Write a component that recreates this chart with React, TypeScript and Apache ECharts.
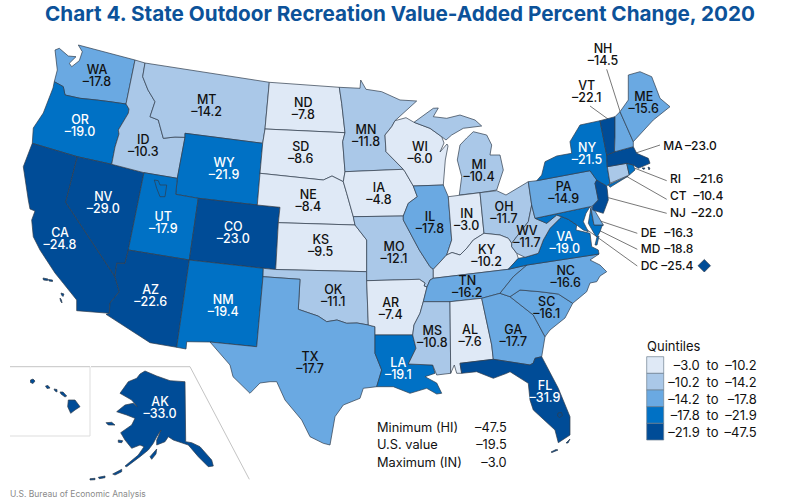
import React, { useEffect, useRef } from "react";
import * as echarts from "echarts";

const FONT = "Inter, 'Open Sans', sans-serif";
const TITLE = "Chart 4. State Outdoor Recreation Value-Added Percent Change, 2020";
const SOURCE = "U.S. Bureau of Economic Analysis";
const QUINTILE_COLORS = ["#DFE9F6", "#AAC8E8", "#6AA9E2", "#0071C5", "#004C97"];
const QUINTILE_LOW = ["-3.0", "-10.2", "-14.2", "-17.8", "-21.9"];
const QUINTILE_HIGH = ["-10.2", "-14.2", "-17.8", "-21.9", "-47.5"];
const STAT_NAMES = ["Minimum (HI)", "U.S. value", "Maximum (IN)"];
const STAT_VALUES = ["-47.5", "-19.5", "-3.0"];

const stateValues: Record<string, number> = {
  WA: -17.8, OR: -19.0, CA: -24.8, NV: -29.0, ID: -10.3, MT: -14.2, WY: -21.9, UT: -17.9, CO: -23.0, AZ: -22.6,
  NM: -19.4, ND: -7.8, SD: -8.6, NE: -8.4, KS: -9.5, OK: -11.1, TX: -17.7, MN: -11.8, IA: -4.8, MO: -12.1,
  AR: -7.4, LA: -19.1, WI: -6.0, IL: -17.8, MI: -10.4, IN: -3.0, OH: -11.7, KY: -10.2, TN: -16.2, MS: -10.8,
  AL: -7.6, GA: -17.7, FL: -31.9, SC: -16.1, NC: -16.6, VA: -19.0, WV: -11.7, PA: -14.9, NY: -21.5, ME: -15.6,
  HI: -47.5, AK: -33.0, NH: -14.5, VT: -22.1, MA: -23.0, RI: -21.6, CT: -10.4, NJ: -22.0, DE: -16.3, MD: -18.8, DC: -25.4,
};

// Region outlines, in page pixels: each region is a list of polygons, each polygon a list of rings.
const shapes: Record<string, string[][]> = {
  WA: [["78.3,45 135,60 126,104 110,101.7 96.7,100 80,98.3 65,95 63.3,86.7 54.3,81.7 57.3,70 55,50 59.3,48.3 68.3,56 76,56.7 69.3,63.3 71.7,66.7 79.3,60.7 82.3,51.7"]],
  OR: [["54.3,81.7 63.3,86.7 65,95 80,98.3 96.7,100 110,101.7 126,104 129,109 128.3,113.3 118.3,130 119,134 115,147 111.7,164.3 77.3,156.7 32.3,143.3 33.3,128 43.3,113 53,88"]],
  CA: [["32.3,143.3 77.3,156.7 65.7,202.3 115,276.7 119.3,291.7 110,303 109.3,313.3 76.7,310.7 76.7,300 63.3,283.3 55,273 40,250 33.3,236.7 31.7,220 35,211 30,209 28.3,200 23.3,166.7"],
    ["43,278 48,279 47.5,280.5 43.5,280"], ["48.5,279.5 52.5,280 52.5,281.5 49,281"], ["61,293 64,294 63,296.5 61.5,295"], ["60,298 61.5,300 62,303 60.5,301"]],
  NV: [["77.3,156.7 111.7,164.3 144,172.7 128.3,250 125,263.3 116.7,263.3 115,276.7 65.7,202.3"]],
  ID: [["135,60 145,63 142.7,76.7 148,90 155,101.7 150,116.7 158.3,120 163.3,138.3 175,137 185,137.3 177.3,178.3 144,172.7 111.7,164.3 115,147 119,134 118.3,130 128.3,113.3 129,109 126,104"]],
  MT: [["145,63 269.3,82.3 265,129 262.7,143.3 185,133.3 185,137.3 175,137 163.3,138.3 158.3,120 150,116.7 155,101.7 148,90 142.7,76.7"]],
  WY: [["185,133.3 262.7,143.3 260,173.3 257.3,205 198.3,198.3 175.7,194.3 177.3,178.3 185,137.3"]],
  UT: [["144,172.7 177.3,178.3 175.7,194.3 198.3,198.3 189.3,260 128.3,250", "154.3,180 158.3,180.7 160,185 166.7,185 165,196.7 160,196.7 156.7,188.3"]],
  CO: [["198.3,198.3 257.3,205 280,207.3 278.3,222.7 275.7,269.5 263.3,268.3 189.3,260"]],
  AZ: [["128.3,250 189.3,260 176.7,347.3 150,342.7 106,314.3 109.3,313.3 110,303 119.3,291.7 115,276.7 116.7,263.3 125,263.3"]],
  NM: [["189.3,260 263.3,268.3 263,276.7 256.7,346.7 210,342 186.7,341.7 186,349 176.7,347.3"]],
  ND: [["269.3,82.3 339.3,87.3 341.7,103.3 345,132.7 265,129"]],
  SD: [["265,129 345,132.7 342.7,141.7 345,171.7 343.3,181.7 332,176 323.3,180 260,173.3 262.7,143.3"]],
  NE: [["260,173.3 323.3,180 332,176 343.3,181.7 346.7,193.3 353.3,216.7 355,225 278.3,222.7 280,207.3 257.3,205"]],
  KS: [["278.3,222.7 355,225 366.7,240 366.7,271.7 275.7,269.5"]],
  OK: [["263.3,268.3 275.7,269.5 366.7,271.7 366.7,280.7 368.3,325 357,323 346.7,323.3 337,320 326.7,321.7 318,316 310,313.3 298.3,309.3 300,279.3 263,276.7"]],
  TX: [["263,276.7 300,279.3 298.3,309.3 310,313.3 318,316 326.7,321.7 337,320 346.7,323.3 357,323 368.3,325 375,326.7 375,353.3 381.7,370 376.7,386.7 363.3,388.3 360,398.3 343.3,405 335,416.7 330,445 323.3,443.3 310,436.7 301.7,420 285,400 276.7,381.7 270,381.7 260,383 250,393.3 233,376.7 230,365 210,342 256.7,346.7"]],
  MN: [["339.3,87.3 360,88.3 360.7,80 366,89.3 381.7,91.7 400,100 416.7,101 395,120.7 391.7,126.7 385,135 386,151.7 403.3,169.3 345,171.7 342.7,141.7 345,132.7 341.7,103.3"]],
  IA: [["345,171.7 403.3,169.3 405,171.7 413.3,186 417.3,196.7 408.3,203.3 403.3,216 353.3,216.7 346.7,193.3 343.3,181.7"]],
  MO: [["353.3,216.7 403.3,216 403.3,220 419.3,250 430,266.7 433.3,269.3 433.3,278.3 430,280 427,287 424,286 425,283 419.3,279.3 366.7,280.7 366.7,271.7 366.7,240 355,225"]],
  AR: [["366.7,280.7 419.3,279.3 425,283 424,286 427,287 423.3,301.7 420,313.3 414,325 412.7,335 375,335 375,326.7 368.3,325"]],
  LA: [["375,335 412.7,335 416,348.3 408.3,364 432.7,365 435,373.3 425,376.7 436.7,383 441.7,393.3 436.7,394 426.7,388.3 410,393.3 393.3,386.7 376.7,386.7 381.7,370 375,353.3"]],
  WI: [["395,120.7 406,117.7 414,122.3 430,128.3 441.7,136.7 444,143 440,152 447,144 448,146 445.3,160 443.3,185 413.3,186 405,171.7 403.3,169.3 386,151.7 385,135 391.7,126.7"]],
  IL: [["413.3,186 443.3,185 448.3,196.7 451.7,240 446.7,255 445,256.7 433.3,269.3 430,266.7 419.3,250 403.3,220 403.3,216 408.3,203.3 417.3,196.7"]],
  MI: [["414,122.3 433.3,108.3 438.3,108 433.3,116.7 446.7,118.3 460,115 475,120 481.7,126 463.3,128.3 451.7,135 446,140 441.7,136.7 430,128.3"],
    ["473.3,131.7 486.7,135 491.7,145 490,155 500,155 503.3,170 496.7,190 480,192.7 459.3,195 461.7,176.7 457.3,160 460,145 466.7,138"]],
  IN: [["448.3,196.7 480,192.7 484,233.3 473.3,240 467,248 460,255 452,252.5 446.7,255 451.7,240"]],
  OH: [["480,192.7 496.7,190.7 506,195 528.3,181.7 531.7,205 528.3,221.7 516.7,236.7 511.7,243.3 508.3,238.3 500,235 484,233.3"]],
  KY: [["484,233.3 500,235 508.3,238.3 511.7,243.3 511.7,246.7 516.7,253.3 518.3,258.3 508.3,269.3 433.3,278.3 433.3,269.3 445,256.7 446.7,255 452,252.5 460,255 467,248 473.3,240"]],
  TN: [["433.3,278.3 508.3,269.3 527,265 513.3,276.7 500,293.3 481.7,298.3 450,301.7 423.3,301.7 427,287 430,280"]],
  MS: [["423.3,301.7 450,301.7 450.7,373.3 436.7,375 432.7,365 408.3,364 416,348.3 412.7,335 414,325 420,313.3"]],
  AL: [["450,301.7 481.7,298.3 491.7,345 493.3,359.3 460,363.3 461.7,373.3 456.7,373.3 454.3,365 450.7,373.3"]],
  GA: [["481.7,298.3 500,293.3 510,296.7 533.3,315 545,336.7 541.7,356.7 535,358.3 533.3,363 530,365 493.3,359.3 491.7,345"]],
  FL: [["460,363.3 493.3,359.3 530,365 533.3,363 535,358.3 541.7,356.7 558.3,388.3 570,416.7 570,435 558.3,442.7 555,430 533.3,410 530,400 528.3,383.3 510,371.7 506.7,373.3 493.3,378.3 476.7,371.7 461.7,373.3", "558,413 561.5,412.5 562.5,415.5 559.5,417.5 557.5,416"],
    ["566,443 570,439 568,443"], ["551,452 556,449.5 558,450 552,452.5"]],
  SC: [["510,296.7 520,290 540,291.7 558.3,294 572.7,303.3 565,318 550,330 545,336.7 533.3,315"]],
  NC: [["527,265 599,254 590,260 600,265 606.7,271.7 600,276 596.7,281.7 590,283 586.7,291.7 572.7,303.3 558.3,294 540,291.7 520,290 510,296.7 500,293.3 513.3,276.7"]],
  VA: [["561.7,216.7 568.3,219.3 576.7,225 576,230 590,233.3 591.7,246.7 598.3,250 599,254 527,265 508.3,269.3 518.3,258.3 525,257.3 538.3,253.3 543.3,240 550,228.3 560,218.3"], ["595,245 597,237 599,236 597,245"]],
  WV: [["531.7,205 535,218.3 546.7,223.3 556.7,215 561.7,216.7 560,218.3 550,228.3 543.3,240 538.3,253.3 525,257.3 516.7,253.3 511.7,246.7 511.7,243.3 516.7,236.7 528.3,221.7"]],
  MD: [["535,218.3 590,206.7 586,213.3 583.3,221.7 588.3,231.7 583.3,230 576.7,225 568.3,219.3 561.7,216.7 556.7,215 546.7,223.3"], ["590.7,208.3 594,225 603.3,225 601.7,226.7 600,231.7 597,237 595,235 588.3,223.3 590,213.3"]],
  DE: [["590.7,206.7 593.3,208.3 603.3,225 594,225"]],
  PA: [["528.3,181.7 536.7,180.7 590,170.7 596.7,180 595,183.3 598.3,200 592.7,206 590,206.7 535,218.3 531.7,205"]],
  NJ: [["596.7,180 606.7,186 607.3,190 608.3,200 603.3,213.3 592.7,210 592.7,206 598.3,200 595,183.3"]],
  NY: [["536.7,180.7 541.7,175 545,161.7 556.7,156 571.7,153.3 570,141.7 580,125 600,120.7 606.7,155 607.3,166.7 610,183.3 606.7,186 596.7,180 590,170.7"], ["608.3,185 628.3,176 610,187.3"]],
  CT: [["607.3,166.7 626.7,163.3 629.3,175 610,183.3"]],
  RI: [["626.7,163.3 633.3,165 635,170 629.3,175"]],
  MA: [["606.7,155 615,151.7 633.3,146.7 636.7,153.3 648.3,158.3 650,163.3 638.3,168.3 633.3,165 626.7,163.3 607.3,166.7"], ["642,168 645,168 644,169.5"], ["648,167 650,168 649,170"]],
  VT: [["600,120.7 615,116.7 615,137 614.5,150 615,151.7 606.7,155"]],
  NH: [["615,116.7 620,111.7 633.3,141.7 633.3,146.7 615,151.7 614.5,150 615,137"]],
  ME: [["628.3,75 640,71.7 651.7,76.7 660,98.3 670,106.7 653.3,120 633.3,141.7 620,111.7 628.3,100"]],
  DC: [["698,265.7 704.3,259.5 710.5,265.7 704.3,272"]],
  HI: [["68.3,400 75,400 80,406.7 75,410 70.7,413.3 67.7,406.7"], ["60,392 63,392 66.7,396 65,397 61,394"], ["54,389 57,389.5 57,392 55,391"], ["45.5,386 48,385.5 50,388 47,388.5"], ["30.5,380 33,379 35,381 33,383.5 30.5,382.5"]],
  AK: [["145,371 156.7,376 170,380.7 185,381.7 185.7,441.7 191.7,442.7 200,446.7 211.7,460 213.3,466 208.3,466.7 198.3,456.7 188.3,445 173.3,440 168.3,436.7 165,441.7 156.7,445 156.7,440 161,430 156.7,436.7 153.3,443.3 148.3,450 140,456.7 126.7,466.7 125,466 138.3,455 144,446.7 140,445 131.7,448.3 125,440 120.7,432.7 131.7,425 135,418.3 126.7,415 116.7,411.7 125,405 133.3,403.3 137.3,406.7 131.7,400 120,393.3 128.3,381.7 136.7,378.3 140,374"],
    ["106,422.7 111.7,422.3 115,425 108.3,425"], ["118.3,440 122.7,440.7 121.7,442.7 118.3,442.3"], ["150,456.7 156.7,449 156,454 151.7,459.3"], ["112.7,474 121.7,469.3 121.7,471.7 115,475"], ["98.3,477.3 105,476 105,477.7 99.3,478.7"], ["90,478.7 95,478.3 95,479.7 90,480"]],
};

// Label centres of the states labelled on the map
const labelCentres: Record<string, number[]> = {
  WA: [97, 75.5], MT: [206.7, 105.5], OR: [80, 125.5], ID: [143.3, 145.5], WY: [224, 168.3], NV: [103.3, 202.7], UT: [163.3, 222.7],
  CO: [233.3, 232.5], CA: [60, 238.7], ND: [303.3, 108.5], SD: [300.7, 152.5], NE: [308.3, 200.5], KS: [320.7, 245.5], MN: [366, 135],
  WI: [420, 152], IA: [379, 193], IL: [430, 222.7], MO: [394, 252.7], MI: [479, 170.5], IN: [466.7, 219.3], OH: [504, 212.5], KY: [486.7, 255.3],
  OK: [333.3, 295.5], AR: [390.7, 308.3], TN: [467.3, 286], MS: [432.3, 336.5], AL: [470, 335.3], TX: [310, 362.7], LA: [398.3, 368.3],
  AZ: [150.7, 295.5], NM: [223.3, 305], HI: [40.7, 408.7], AK: [160, 407.5], ME: [643.7, 102.7], NY: [587, 153.7], PA: [563.7, 192.5],
  VA: [564.7, 242.5], WV: [527, 236.5], NC: [565.7, 276.7], SC: [546.7, 307.5], GA: [513.3, 335.8], FL: [545, 391.5],
};
const fmt = (s: number | string) => (typeof s === "number" ? s.toFixed(1) : s).replace("-", "–");

const parseRing = (s: string) => s.trim().split(/\s+/).map((p) => { const [x, y] = p.split(",").map(Number); return [x, -y]; });

function buildGeo() {
  const features = Object.keys(shapes).map((name) => {
    const polygons = shapes[name].map((rings) => rings.map((r) => { const c = parseRing(r); c.push(c[0]); return c; }));
    const cp = labelCentres[name] ? [labelCentres[name][0], -labelCentres[name][1]] : undefined;
    return { type: "Feature", properties: { name, cp }, geometry: { type: "MultiPolygon", coordinates: polygons } };
  });
  return { type: "FeatureCollection", features };
}

function bbox() {
  let x0 = 1e9, x1 = -1e9, y0 = 1e9, y1 = -1e9;
  Object.values(shapes).forEach((ps) => ps.forEach((rs) => rs.forEach((r) => parseRing(r).forEach(([x, y]) => {
    x0 = Math.min(x0, x); x1 = Math.max(x1, x); y0 = Math.min(y0, -y); y1 = Math.max(y1, -y);
  }))));
  return { left: x0, top: y0, width: x1 - x0, height: y1 - y0 };
}

const txt = (x: number, y: number, text: string, extra: any = {}) => ({
  type: "text", x, y, silent: true,
  style: { text, fontFamily: FONT, fontSize: 12.5, fontWeight: 500, fill: "#111", textAlign: "left", textVerticalAlign: "middle", ...extra },
});
const leader = (x1: number, y1: number, x2: number, y2: number) => ({
  type: "line", silent: true, shape: { x1, y1, x2, y2 }, style: { stroke: "#555", lineWidth: 0.8 },
});

export default function App() {
  const ref = useRef<HTMLDivElement>(null);
  useEffect(() => {
    document.body.style.margin = "0";
    echarts.registerMap("usstates", buildGeo() as any);
    const chart = echarts.init(ref.current!, undefined, { renderer: "svg" });
    const box = bbox();
    const data = Object.keys(stateValues).map((name) => {
      const v = stateValues[name];
      return {
        name, value: v,
        label: labelCentres[name]
          ? { show: true, color: v < -17.8 ? "#fff" : "#111" }
          : { show: false },
      };
    });

    const topLabels: any[] = [
      txt(603, 48.3, "NH", { textAlign: "center" }), txt(603, 60, fmt(stateValues.NH), { textAlign: "center" }),
      txt(586.7, 85, "VT", { textAlign: "center" }), txt(586.7, 97.5, fmt(stateValues.VT), { textAlign: "center" }),
    ];
    const sideLabels: [string, number, number, number][] = [
      ["MA", 663.3, 145.7, 716.7], ["RI", 670, 178.3, 723.3], ["CT", 670, 195.7, 723.3], ["NJ", 670, 212.3, 723.3],
      ["DE", 640.7, 232.3, 693.3], ["MD", 640.7, 248.3, 693.3], ["DC", 640.7, 265.7, 693.3],
    ];
    const side = sideLabels.flatMap(([n, x, y, xr]) => [
      txt(x, y, n, { fontSize: 12 }),
      txt(xr, y, fmt(stateValues[n]), { textAlign: "right", fontSize: 12 }),
    ]);
    const lines = [
      leader(606.7, 69.3, 630, 142.7), leader(590, 106, 609.3, 120), leader(660, 145, 635, 153.3), leader(666.7, 180.7, 635, 168.3),
      leader(666.7, 199.3, 618.3, 171.7), leader(666.7, 213.3, 608.3, 197.7), leader(637.3, 233.3, 597.3, 220),
      leader(637.3, 249.3, 591.7, 226.7), leader(637.3, 266, 577.3, 222.7),
    ];
    const stats = STAT_NAMES.flatMap((n, i) => [
      txt(377, 427.5 + i * 17.3, n, { fontWeight: 400, fontSize: 12.8 }),
      txt(506.7, 427.5 + i * 17.3, fmt(STAT_VALUES[i]), { textAlign: "right", fontWeight: 400, fontSize: 12.8 }),
    ]);
    const legendRows = QUINTILE_COLORS.flatMap((c, i) => {
      const y = 356.7 + i * 16.66;
      return [
        { type: "rect", silent: true, shape: { x: 646.7, y, width: 17, height: 16.66 }, style: { fill: c, stroke: "#6f7f8f", lineWidth: 0.7 } },
        txt(699.7, y + 8.6, fmt(QUINTILE_LOW[i]), { textAlign: "right", fontWeight: 400, fontSize: 13 }),
        txt(712.5, y + 8.6, "to", { textAlign: "center", fontWeight: 400, fontSize: 13 }),
        txt(756.7, y + 8.6, fmt(QUINTILE_HIGH[i]), { textAlign: "right", fontWeight: 400, fontSize: 13 }),
      ];
    });

    chart.setOption({
      animation: false,
      backgroundColor: "#fff",
      title: {
        text: TITLE, left: 395, top: -2, textAlign: "center",
        textStyle: { fontFamily: FONT, fontSize: 20.7, fontWeight: 700, color: "#0C5299" },
      },
      visualMap: {
        type: "piecewise", show: false, seriesIndex: 0,
        pieces: [
          { gte: -10.2, lte: -3, color: QUINTILE_COLORS[0] },
          { gte: -14.2, lt: -10.2, color: QUINTILE_COLORS[1] },
          { gte: -17.8, lt: -14.2, color: QUINTILE_COLORS[2] },
          { gte: -21.9, lt: -17.8, color: QUINTILE_COLORS[3] },
          { gte: -47.5, lt: -21.9, color: QUINTILE_COLORS[4] },
        ],
      },
      series: [{
        type: "map", map: "usstates", aspectScale: 1, roam: false, selectedMode: false, silent: true,
        left: box.left, top: box.top, width: box.width, height: box.height,
        itemStyle: { borderColor: "#2f3c4c", borderWidth: 0.7 },
        label: {
          show: true, fontFamily: FONT, fontSize: 12.5, fontWeight: 500, lineHeight: 12,
          formatter: (p: any) => `${p.name}\n${fmt(p.value)}`,
        },
        data,
      }],
      graphic: { elements: [
        { type: "polyline", silent: true, shape: { points: [[10, 366.7], [90, 366.7]] }, style: { stroke: "#c4c4c4", lineWidth: 1, fill: "none" } },
        { type: "polyline", silent: true, shape: { points: [[90, 366.7], [90, 436], [10, 436]] }, style: { stroke: "#dddddd", lineWidth: 1, fill: "none" } },
        { type: "polyline", silent: true, shape: { points: [[91, 366.7], [190, 366.7], [249.3, 479.3]] }, style: { stroke: "#c4c4c4", lineWidth: 1, fill: "none" } },
        ...lines, ...topLabels, ...side, ...stats, ...legendRows,
        txt(647, 345.5, "Quintiles", { fontWeight: 400, fontSize: 13 }),
        txt(10, 493.5, SOURCE, { fontSize: 8.5, fontWeight: 400, fill: "#8a8a8a" }),
      ] },
    });
    return () => chart.dispose();
  }, []);
  return <div ref={ref} style={{ width: 800, height: 500 }} />;
}
